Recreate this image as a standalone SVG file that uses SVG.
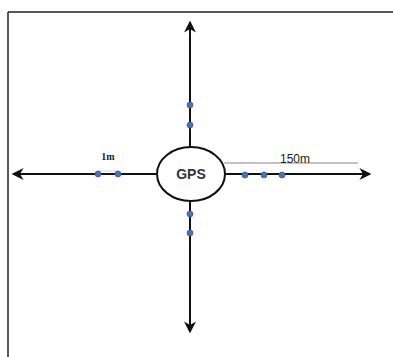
<svg xmlns="http://www.w3.org/2000/svg" width="393" height="357" viewBox="0 0 393 357">
<defs>
<style>
.ax{stroke:#111;stroke-width:2;fill:none}
.dot{fill:#4a73b5;stroke:#3a5f9a;stroke-width:0.8}
.lbl{font-family:"Liberation Serif",serif;font-size:10px;fill:#222}
</style>
<marker id="ah" viewBox="0 0 10 10" refX="8" refY="5" markerWidth="6" markerHeight="6" orient="auto" markerUnits="strokeWidth">
<path d="M0,0 L10,5 L0,10 L3,5 Z" fill="#111"/>
</marker>
</defs>
<rect width="393" height="357" fill="#fff"/>
<g id="frame">
<line x1="8" y1="12" x2="393" y2="12" stroke="#222" stroke-width="1.5"/>
<line x1="8" y1="12" x2="8" y2="357" stroke="#222" stroke-width="1.5"/>
</g>
<g id="connectors">
<line class="ax" x1="190" y1="147" x2="190" y2="23" marker-end="url(#ah)"/>
<line class="ax" x1="190" y1="202" x2="190" y2="331" marker-end="url(#ah)"/>
<line class="ax" x1="156" y1="174" x2="14" y2="174" marker-end="url(#ah)"/>
<line class="ax" x1="226" y1="174" x2="369" y2="174" marker-end="url(#ah)"/>
<line x1="224" y1="163" x2="358" y2="163" stroke="#888" stroke-width="1"/>
<line x1="98" y1="171" x2="118" y2="171" stroke="#c8d3e6" stroke-width="1"/>
</g>
<g id="gps">
<ellipse cx="191" cy="174" rx="34" ry="27" fill="#fff" stroke="#111" stroke-width="2"/>
<text x="191" y="179" text-anchor="middle" font-family="Liberation Sans,Arial,sans-serif" font-size="14" font-weight="bold" fill="#333">GPS</text>
</g>
<g id="dots">
<circle class="dot" cx="190" cy="105" r="3"/>
<circle class="dot" cx="190" cy="125" r="3"/>
<circle class="dot" cx="190" cy="214" r="3"/>
<circle class="dot" cx="190" cy="233" r="3"/>
<circle class="dot" cx="98" cy="174" r="3"/>
<circle class="dot" cx="118" cy="174" r="3"/>
<circle class="dot" cx="245" cy="175" r="3"/>
<circle class="dot" cx="264" cy="175" r="3"/>
<circle class="dot" cx="282" cy="175" r="3"/>
</g>
<g id="labels">
<text class="lbl" x="108" y="160" text-anchor="middle" font-weight="bold">1m</text>
<text x="295" y="163" text-anchor="middle" font-family="Liberation Sans,Arial,sans-serif" font-size="12" fill="#222">150m</text>
</g>
</svg>
